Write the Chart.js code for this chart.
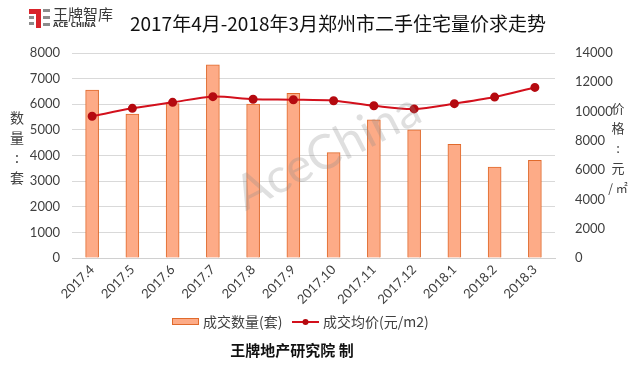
<!DOCTYPE html>
<html>
<head>
<meta charset="utf-8">
<script src="https://cdn.jsdelivr.net/npm/chart.js@4"></script>
<style>
	body { margin: 0; background: #fff; }
	#wrap { width: 640px; height: 365px; position: relative; }
</style>
</head>
<body>
<div id="wrap"><canvas id="myChart" width="640" height="365"></canvas></div>
<script>
// data
const months = ["2017.4", "2017.5", "2017.6", "2017.7", "2017.8", "2017.9", "2017.10", "2017.11", "2017.12", "2018.1", "2018.2", "2018.3"];
const dealCount = [6550, 5620, 6030, 7540, 6010, 6430, 4110, 5390, 5000, 4440, 3550, 3810];
const avgPrice = [9680, 10220, 10630, 11020, 10840, 10810, 10740, 10400, 10180, 10540, 10990, 11650];
const countTicks = [0, 1000, 2000, 3000, 4000, 5000, 6000, 7000, 8000];
const priceTicks = [0, 2000, 4000, 6000, 8000, 10000, 12000, 14000];

const FONT = "Lato, 'DejaVu Sans', sans-serif";
const CJK = "'Noto Sans CJK SC', sans-serif";

const barFill = "#fdab87";
const barLine = "#e06a2c";
const lineColor = "#d3101c";
const dotColor = "#b50a10";

// title, logo, axis names, legend, footer, watermark
const extras = {
	id: "extras",
	afterDraw(chart) {
		const ctx = chart.ctx;
		ctx.save();

		// logo
		ctx.fillStyle = "#d9232a";
		ctx.fillRect(29, 9, 9, 5);
		ctx.fillRect(36, 9, 5, 19);
		ctx.fillStyle = "#8c8c8c";
		ctx.fillRect(29, 16, 5, 3);
		ctx.fillRect(29, 22, 5, 3);
		ctx.fillRect(43, 9, 7, 3);
		ctx.fillRect(43, 16, 7, 3);
		ctx.fillRect(43, 23, 7, 3);
		ctx.fillStyle = "#3a3a3a";
		ctx.font = "15px " + CJK;
		ctx.textBaseline = "middle";
		ctx.textAlign = "left";
		ctx.fillText("王牌智库", 53, 14);
		ctx.font = "bold 7px 'DejaVu Sans', sans-serif";
		ctx.fillText("ACE CHINA", 53, 25.5);

		// title
		ctx.fillStyle = "#111";
		ctx.font = "19px " + CJK;
		ctx.textAlign = "center";
		ctx.fillText("2017年4月-2018年3月郑州市二手住宅量价求走势", 338, 24);

		// axis names, one character per line
		ctx.font = "14px " + CJK;
		ctx.fillStyle = "#404040";
		["数", "量", ":", "套"].forEach((c, i) => ctx.fillText(c, 17, 118 + i * 20));
		ctx.font = "13px " + CJK;
		["价", "格", ":", "元"].forEach((c, i) => ctx.fillText(c, 618, 108 + i * 20));
		ctx.font = "12px " + CJK;
		ctx.fillText("/ ㎡", 618, 188);

		// legend
		ctx.fillStyle = barFill;
		ctx.strokeStyle = barLine;
		ctx.lineWidth = 1;
		ctx.fillRect(172.5, 318.5, 26, 6);
		ctx.strokeRect(172.5, 318.5, 26, 6);
		ctx.fillStyle = "#404040";
		ctx.font = "14px " + CJK;
		ctx.textAlign = "left";
		ctx.fillText("成交数量(套)", 203, 322);
		ctx.strokeStyle = lineColor;
		ctx.lineWidth = 2;
		ctx.beginPath();
		ctx.moveTo(292, 322);
		ctx.lineTo(319, 322);
		ctx.stroke();
		ctx.fillStyle = dotColor;
		ctx.beginPath();
		ctx.arc(305.5, 322, 3, 0, Math.PI * 2);
		ctx.fill();
		ctx.fillStyle = "#404040";
		ctx.fillText("成交均价(元/m2)", 323, 322);

		// footer
		ctx.fillStyle = "#111";
		ctx.font = "bold 15px " + CJK;
		ctx.textAlign = "center";
		ctx.fillText("王牌地产研究院 制", 292, 350);

		// watermark
		ctx.translate(328, 152);
		ctx.rotate(-0.47);
		ctx.fillStyle = "rgba(140,140,140,0.28)";
		ctx.font = "48px " + FONT;
		ctx.fillText("AceChina", 0, 0);
		ctx.restore();
	}
};

const plain = v => String(v);

new Chart("myChart", {
	data: {
		labels: months,
		datasets: [{
			type: "line",
			label: "成交均价(元/m2)",
			data: avgPrice,
			yAxisID: "y1",
			borderColor: lineColor,
			borderWidth: 2,
			backgroundColor: dotColor,
			pointBackgroundColor: dotColor,
			pointBorderColor: dotColor,
			pointRadius: 3.5,
			tension: 0.3,
			fill: false,
			order: 0
		}, {
			type: "bar",
			label: "成交数量(套)",
			data: dealCount,
			yAxisID: "y",
			backgroundColor: barFill,
			borderColor: barLine,
			borderWidth: 1,
			barThickness: 13,
			order: 1
		}]
	},
	options: {
		responsive: false,
		animation: false,
		layout: { padding: { top: 53, left: 0, right: 0, bottom: 0 } },
		plugins: { legend: { display: false }, tooltip: { enabled: false } },
		scales: {
			x: {
				grid: { display: false, drawTicks: false },
				border: { color: "#d0d0d0" },
				ticks: { color: "#404040", font: { family: FONT, size: 13 }, minRotation: 45, maxRotation: 45, padding: 4 },
				afterFit: s => { s.height = 107; }
			},
			y: {
				position: "left",
				min: 0, max: 8000,
				afterBuildTicks: s => { s.ticks = countTicks.map(v => ({ value: v })); },
				grid: { color: "#d9d9d9", drawTicks: false },
				border: { display: false },
				ticks: { color: "#404040", font: { family: FONT, size: 13 }, padding: 12, callback: plain },
				afterFit: s => { s.width = 72; }
			},
			y1: {
				position: "right",
				min: 0, max: 14000,
				afterBuildTicks: s => { s.ticks = priceTicks.map(v => ({ value: v })); },
				grid: { display: false },
				border: { display: false },
				ticks: { color: "#404040", font: { family: FONT, size: 13 }, padding: 12, callback: plain },
				afterFit: s => { s.width = 85; }
			}
		}
	},
	plugins: [extras]
});
</script>
</body>
</html>
